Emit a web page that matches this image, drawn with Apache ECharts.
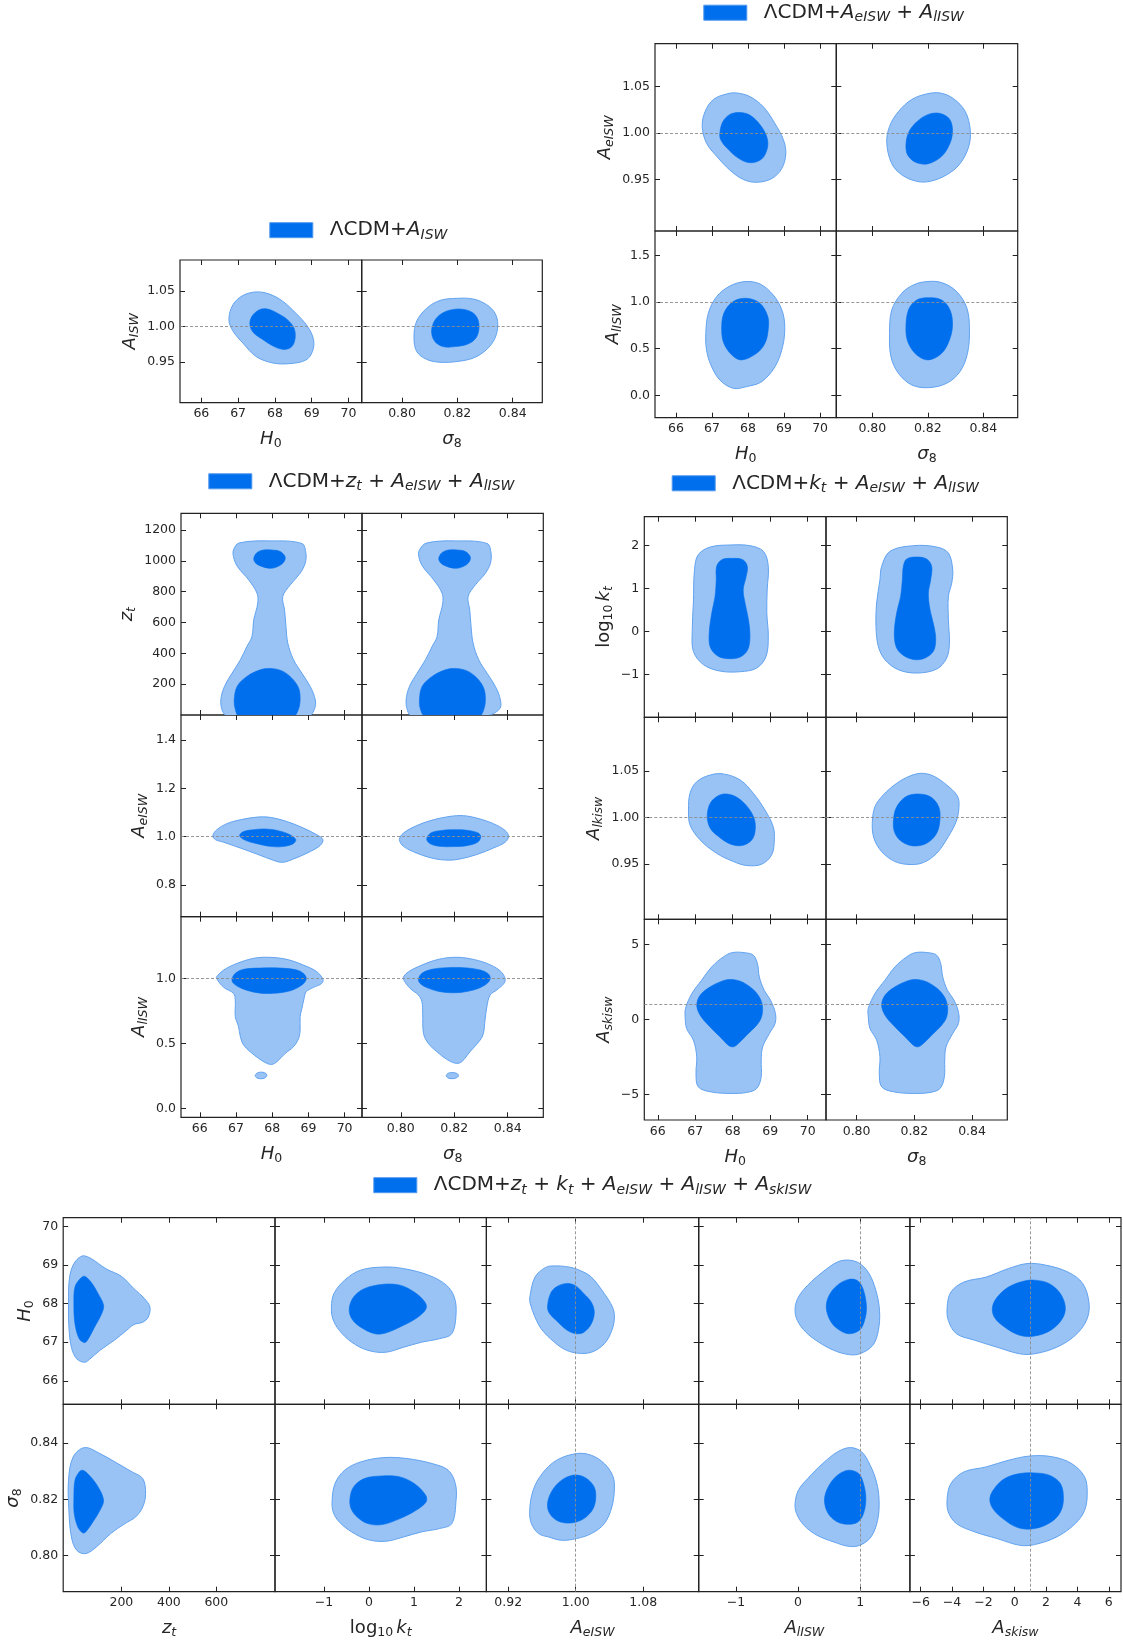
<!DOCTYPE html>
<html>
<head>
<meta charset="utf-8">
<script src="https://cdn.jsdelivr.net/npm/echarts@6/dist/echarts.min.js"></script>
<style>
  html, body { margin: 0; padding: 0; background: #fff; }
  #chart { width: 1123px; height: 1647px; }
</style>
</head>
<body>
<div id="chart"></div>
<script>
// ---------- tick values ----------
const H0_TICKS = [66, 67, 68, 69, 70];
const S8_TICKS = [0.80, 0.82, 0.84];
const A_TICKS = [0.95, 1.00, 1.05];
const ALISW_TICKS_2 = [0.0, 0.5, 1.0, 1.5];
const ZT_TICKS_3 = [200, 400, 600, 800, 1000, 1200];
const AEISW_TICKS_3 = [0.8, 1.0, 1.2, 1.4];
const ALISW_TICKS_3 = [0.0, 0.5, 1.0];
const KT_TICKS = [-1, 0, 1, 2];
const ASK_TICKS_4 = [-5, 0, 5];
const ZT_TICKS_5 = [200, 400, 600];
const AEISW_TICKS_5 = [0.92, 1.00, 1.08];
const ALISW_TICKS_5 = [-1, 0, 1];
const ASK_TICKS_5 = [-6, -4, -2, 0, 2, 4, 6];

// fiducial amplitude (dashed reference lines)
const A_FID = 1.0;

// ---------- contour boundaries (68% and 95% regions), [x, y] in data units ----------
// ΛCDM+A_ISW
const g1_h0_aisw_95 = [[66.75,1.010],[66.86,1.031],[67.13,1.044],[67.49,1.049],[67.85,1.046],[68.21,1.036],[68.57,1.019],[68.88,1.001],[69.05,0.982],[69.02,0.965],[68.84,0.953],[68.39,0.948],[67.94,0.949],[67.49,0.958],[67.13,0.977],[66.86,0.994]];
const g1_h0_aisw_68 = [[67.32,1.003],[67.38,1.015],[67.58,1.024],[67.80,1.025],[68.07,1.019],[68.34,1.010],[68.52,0.998],[68.55,0.984],[68.46,0.972],[68.25,0.968],[67.98,0.972],[67.67,0.982],[67.41,0.992]];
const g1_s8_aisw_95 = [[0.8043,0.986],[0.8053,1.008],[0.8089,1.026],[0.8137,1.037],[0.8198,1.040],[0.8258,1.039],[0.8306,1.031],[0.8336,1.019],[0.8346,1.003],[0.8336,0.984],[0.8306,0.968],[0.8258,0.956],[0.8198,0.951],[0.8137,0.950],[0.8089,0.954],[0.8053,0.965]];
const g1_s8_aisw_68 = [[0.8107,0.991],[0.8113,1.005],[0.8137,1.017],[0.8180,1.024],[0.8228,1.024],[0.8264,1.017],[0.8278,1.003],[0.8270,0.986],[0.8240,0.976],[0.8192,0.972],[0.8149,0.972],[0.8119,0.979]];

// ΛCDM+A_eISW+A_lISW
const g2_h0_ae_95 = [[66.73,1.007],[66.81,1.023],[67.04,1.036],[67.41,1.042],[67.69,1.043],[68.06,1.039],[68.43,1.028],[68.75,1.010],[68.98,0.993],[69.05,0.978],[68.94,0.962],[68.66,0.951],[68.24,0.947],[67.87,0.950],[67.50,0.960],[67.13,0.975],[66.85,0.989]];
const g2_h0_ae_68 = [[67.22,1.000],[67.30,1.012],[67.50,1.020],[67.78,1.022],[68.06,1.019],[68.33,1.009],[68.52,0.996],[68.54,0.984],[68.38,0.972],[68.06,0.968],[67.73,0.973],[67.41,0.984],[67.24,0.993]];
const g2_s8_ae_95 = [[0.8052,0.989],[0.8062,1.007],[0.8094,1.023],[0.8142,1.036],[0.8196,1.042],[0.8244,1.043],[0.8292,1.037],[0.8335,1.023],[0.8353,1.003],[0.8347,0.985],[0.8316,0.967],[0.8268,0.955],[0.8208,0.948],[0.8160,0.948],[0.8106,0.955],[0.8070,0.967]];
const g2_s8_ae_68 = [[0.8121,0.985],[0.8130,1.000],[0.8160,1.012],[0.8202,1.020],[0.8244,1.021],[0.8278,1.015],[0.8289,1.003],[0.8280,0.989],[0.8250,0.975],[0.8202,0.967],[0.8160,0.968],[0.8130,0.975]];
const g2_h0_al_95 = [[66.83,0.664],[66.90,0.879],[67.13,1.057],[67.50,1.171],[67.92,1.218],[68.33,1.193],[68.70,1.075],[68.94,0.914],[69.02,0.736],[68.96,0.521],[68.75,0.307],[68.38,0.146],[67.96,0.093],[67.59,0.075],[67.22,0.164],[66.97,0.325],[66.85,0.486]];
const g2_h0_al_68 = [[67.27,0.700],[67.33,0.879],[67.59,1.004],[67.96,1.039],[68.33,0.986],[68.55,0.843],[68.56,0.700],[68.47,0.557],[68.24,0.450],[67.82,0.379],[67.55,0.432],[67.33,0.557]];
const g2_s8_al_95 = [[0.8062,0.664],[0.8070,0.914],[0.8106,1.093],[0.8148,1.182],[0.8196,1.218],[0.8250,1.207],[0.8304,1.111],[0.8341,0.932],[0.8350,0.700],[0.8343,0.450],[0.8316,0.254],[0.8268,0.129],[0.8202,0.082],[0.8142,0.111],[0.8094,0.236],[0.8067,0.414]];
const g2_s8_al_68 = [[0.8121,0.700],[0.8130,0.914],[0.8160,1.021],[0.8202,1.046],[0.8250,1.021],[0.8280,0.914],[0.8289,0.754],[0.8278,0.593],[0.8250,0.450],[0.8202,0.379],[0.8160,0.432],[0.8130,0.557]];

// ΛCDM+z_t+A_eISW+A_lISW
const g3_h0_zt_95 = [[66.93,1027],[67.04,962],[67.35,876],[67.58,790],[67.60,725],[67.49,617],[67.44,509],[67.30,444],[67.12,358],[66.89,271],[66.68,185],[66.58,98],[66.62,30],[66.75,-5],[69.02,-5],[69.17,40],[69.19,98],[69.05,185],[68.82,271],[68.59,358],[68.43,466],[68.38,574],[68.34,682],[68.29,768],[68.50,844],[68.77,919],[68.91,984],[68.93,1049],[68.82,1112],[67.94,1129],[67.08,1115],[66.93,1070]];
const g3_h0_zt_68a = [[67.49,1016],[67.58,1053],[67.76,1070],[67.99,1070],[68.22,1060],[68.36,1023],[68.29,984],[68.08,956],[67.90,952],[67.67,967],[67.53,988]];
const g3_h0_zt_68b = [[66.95,98],[67.03,185],[67.30,250],[67.67,293],[67.94,302],[68.27,286],[68.54,239],[68.73,174],[68.77,98],[68.72,34],[68.60,-5],[67.08,-5],[66.98,38]];
const g3_s8_zt_95 = [[0.80673,1027],[0.80823,962],[0.81234,876],[0.81545,790],[0.81570,725],[0.81421,617],[0.81358,509],[0.81171,444],[0.80922,358],[0.80611,271],[0.80324,185],[0.80200,98],[0.80250,30],[0.80400,-5],[0.83200,-5],[0.83700,40],[0.83726,98],[0.83539,185],[0.83227,271],[0.82916,358],[0.82704,466],[0.82629,574],[0.82579,682],[0.82517,768],[0.82791,844],[0.83165,919],[0.83352,984],[0.83377,1049],[0.83227,1112],[0.82044,1129],[0.80960,1115],[0.80698,1070]];
const g3_s8_zt_68a = [[0.81421,1016],[0.81545,1053],[0.81794,1070],[0.82106,1070],[0.82417,1060],[0.82604,1023],[0.82517,984],[0.82231,956],[0.81981,952],[0.81670,967],[0.81483,988]];
const g3_s8_zt_68b = [[0.80698,98],[0.80798,185],[0.81171,250],[0.81670,293],[0.82044,302],[0.82480,286],[0.82853,239],[0.83103,174],[0.83165,98],[0.83100,34],[0.82950,-5],[0.80900,-5],[0.80735,38]];
const g3_h0_ae_95 = [[66.36,1.004],[66.47,1.029],[66.75,1.054],[67.12,1.070],[67.58,1.081],[67.94,1.080],[68.40,1.063],[68.86,1.036],[69.23,1.008],[69.40,0.988],[69.32,0.963],[68.96,0.932],[68.59,0.908],[68.29,0.894],[68.04,0.902],[67.58,0.928],[67.12,0.953],[66.66,0.977],[66.43,0.988]];
const g3_h0_ae_68 = [[67.10,1.004],[67.21,1.021],[67.49,1.029],[67.81,1.032],[68.13,1.026],[68.45,1.011],[68.65,0.988],[68.57,0.970],[68.27,0.959],[67.94,0.960],[67.58,0.971],[67.26,0.985]];
const g3_s8_ae_95 = [[0.7995,0.988],[0.8010,1.015],[0.8060,1.046],[0.8122,1.070],[0.8184,1.084],[0.8234,1.087],[0.8284,1.077],[0.8346,1.054],[0.8390,1.026],[0.8403,1.001],[0.8390,0.977],[0.8346,0.953],[0.8284,0.926],[0.8222,0.908],[0.8178,0.903],[0.8122,0.910],[0.8060,0.932],[0.8010,0.960]];
const g3_s8_ae_68 = [[0.8097,0.990],[0.8112,1.015],[0.8153,1.026],[0.8203,1.029],[0.8253,1.026],[0.8290,1.015],[0.8299,0.999],[0.8287,0.977],[0.8247,0.963],[0.8197,0.959],[0.8147,0.960],[0.8110,0.971]];
const g3_h0_al_95 = [[66.46,1.003],[66.66,0.933],[66.93,0.887],[66.98,0.835],[66.98,0.707],[67.07,0.630],[67.12,0.553],[67.21,0.488],[67.39,0.437],[67.62,0.386],[67.85,0.347],[67.99,0.339],[68.13,0.360],[68.36,0.424],[68.59,0.476],[68.73,0.540],[68.77,0.604],[68.77,0.707],[68.82,0.771],[68.88,0.848],[68.94,0.900],[69.14,0.933],[69.37,0.964],[69.40,0.995],[69.23,1.054],[68.86,1.105],[68.40,1.149],[67.90,1.165],[67.49,1.157],[67.03,1.118],[66.66,1.067],[66.48,1.020]];
const g3_h0_al_95b = [[67.53,0.254],[67.60,0.274],[67.72,0.279],[67.83,0.268],[67.85,0.252],[67.78,0.232],[67.65,0.229],[67.56,0.238]];
const g3_h0_al_68 = [[66.89,0.995],[66.98,1.041],[67.21,1.072],[67.67,1.082],[68.22,1.082],[68.68,1.067],[68.88,1.036],[68.94,0.995],[68.82,0.951],[68.50,0.907],[68.04,0.887],[67.58,0.892],[67.16,0.925],[66.93,0.964]];
const g3_s8_al_95 = [[0.8010,0.995],[0.8035,0.925],[0.8066,0.874],[0.8079,0.823],[0.8082,0.733],[0.8085,0.578],[0.8103,0.501],[0.8135,0.437],[0.8172,0.378],[0.8207,0.347],[0.8228,0.360],[0.8259,0.437],[0.8297,0.527],[0.8309,0.578],[0.8315,0.681],[0.8322,0.784],[0.8334,0.874],[0.8359,0.913],[0.8386,0.964],[0.8390,1.003],[0.8371,1.062],[0.8322,1.118],[0.8259,1.154],[0.8203,1.165],[0.8141,1.149],[0.8079,1.105],[0.8029,1.054],[0.8012,1.020]];
const g3_s8_al_95b = [[0.8170,0.252],[0.8178,0.271],[0.8193,0.276],[0.8210,0.269],[0.8216,0.252],[0.8207,0.234],[0.8192,0.229],[0.8177,0.234]];
const g3_s8_al_68 = [[0.8066,0.995],[0.8079,1.041],[0.8116,1.072],[0.8172,1.085],[0.8234,1.085],[0.8297,1.067],[0.8328,1.036],[0.8334,0.995],[0.8315,0.951],[0.8272,0.913],[0.8209,0.892],[0.8147,0.900],[0.8095,0.933],[0.8072,0.964]];

// ΛCDM+k_t+A_eISW+A_lISW
const g4_h0_kt_95 = [[66.98,1.442],[67.08,1.791],[67.40,1.969],[67.93,2.016],[68.46,2.000],[68.82,1.868],[68.95,1.519],[68.92,0.977],[68.91,0.434],[68.95,-0.109],[68.89,-0.574],[68.64,-0.845],[68.20,-0.930],[67.66,-0.915],[67.22,-0.767],[66.95,-0.457],[66.92,0.047],[66.95,0.667]];
const g4_h0_kt_68 = [[67.57,1.519],[67.71,1.674],[67.97,1.705],[68.27,1.674],[68.39,1.519],[68.36,1.287],[68.28,0.977],[68.33,0.667],[68.42,0.279],[68.46,-0.109],[68.40,-0.419],[68.20,-0.589],[67.93,-0.628],[67.62,-0.574],[67.41,-0.380],[67.37,-0.070],[67.44,0.434],[67.53,0.822],[67.56,1.209]];
const g4_s8_kt_95 = [[0.80867,1.519],[0.81156,1.868],[0.81965,2.000],[0.82775,1.969],[0.83179,1.829],[0.83329,1.442],[0.83295,1.132],[0.83179,0.822],[0.83179,0.279],[0.83214,-0.264],[0.83121,-0.612],[0.82775,-0.868],[0.82081,-0.961],[0.81445,-0.884],[0.80983,-0.651],[0.80752,-0.341],[0.80671,0.124],[0.80694,0.667],[0.80809,1.209]];
const g4_s8_kt_68 = [[0.81619,1.519],[0.81734,1.690],[0.82081,1.736],[0.82428,1.690],[0.82601,1.519],[0.82566,1.209],[0.82486,0.899],[0.82543,0.512],[0.82682,0.124],[0.82740,-0.186],[0.82659,-0.457],[0.82370,-0.612],[0.82058,-0.651],[0.81676,-0.574],[0.81387,-0.380],[0.81306,-0.031],[0.81387,0.434],[0.81526,0.822],[0.81584,1.209]];
const g4_h0_alk_95 = [[66.82,1.0082],[66.86,1.0262],[67.04,1.0387],[67.40,1.0459],[67.75,1.0470],[68.20,1.0405],[68.55,1.0262],[68.86,1.0082],[69.08,0.9903],[69.11,0.9760],[69.04,0.9599],[68.77,0.9498],[68.37,0.9484],[68.02,0.9527],[67.57,0.9616],[67.13,0.9760],[66.86,0.9921]];
const g4_h0_alk_68 = [[67.32,1.0011],[67.40,1.0154],[67.62,1.0237],[67.84,1.0254],[68.11,1.0219],[68.39,1.0118],[68.57,0.9993],[68.60,0.9867],[68.51,0.9760],[68.24,0.9699],[67.93,0.9717],[67.62,0.9796],[67.40,0.9885]];
const g4_s8_alk_95 = [[0.80543,0.9939],[0.80636,1.0118],[0.80925,1.0244],[0.81387,1.0369],[0.81850,1.0448],[0.82254,1.0477],[0.82659,1.0448],[0.83121,1.0351],[0.83468,1.0244],[0.83549,1.0154],[0.83468,0.9975],[0.83179,0.9796],[0.82775,0.9616],[0.82312,0.9516],[0.81850,0.9495],[0.81330,0.9527],[0.80867,0.9634],[0.80601,0.9778]];
const g4_s8_alk_68 = [[0.81272,0.9939],[0.81364,1.0100],[0.81676,1.0219],[0.82081,1.0254],[0.82543,1.0226],[0.82832,1.0125],[0.82890,0.9993],[0.82775,0.9832],[0.82428,0.9724],[0.81965,0.9695],[0.81561,0.9742],[0.81330,0.9832]];
const g4_h0_ask_95 = [[66.74,0.735],[66.91,1.737],[67.17,2.628],[67.44,3.519],[67.75,4.187],[68.00,4.48],[68.37,4.45],[68.55,4.298],[68.66,3.742],[68.71,2.851],[68.84,1.960],[69.01,1.292],[69.14,0.401],[69.13,-0.267],[68.98,-0.935],[68.80,-1.826],[68.76,-2.717],[68.76,-3.831],[68.64,-4.610],[68.37,-4.878],[67.93,-4.944],[67.40,-4.833],[67.08,-4.499],[67.02,-3.608],[67.04,-2.494],[66.95,-1.381],[66.77,-0.601],[66.73,0.178]];
const g4_h0_ask_68 = [[67.04,0.958],[67.13,1.626],[67.40,2.183],[67.71,2.561],[67.93,2.673],[68.20,2.561],[68.46,2.183],[68.68,1.626],[68.79,0.958],[68.77,0.178],[68.64,-0.379],[68.37,-1.047],[68.15,-1.604],[68.02,-1.826],[67.88,-1.715],[67.66,-1.158],[67.35,-0.379],[67.13,0.290]];
const g4_s8_ask_95 = [[0.80405,0.735],[0.80636,1.737],[0.80983,2.628],[0.81330,3.519],[0.81734,4.187],[0.82050,4.48],[0.82543,4.45],[0.82775,4.298],[0.82913,3.742],[0.82983,2.851],[0.83144,1.960],[0.83376,1.292],[0.83537,0.401],[0.83526,-0.267],[0.83329,-0.935],[0.83098,-1.826],[0.83052,-2.717],[0.83040,-3.831],[0.82890,-4.610],[0.82543,-4.878],[0.81965,-4.944],[0.81272,-4.833],[0.80867,-4.499],[0.80786,-3.608],[0.80809,-2.494],[0.80694,-1.381],[0.80463,-0.601],[0.80405,0.178]];
const g4_s8_ask_68 = [[0.80867,0.958],[0.80983,1.626],[0.81330,2.183],[0.81734,2.561],[0.82023,2.673],[0.82370,2.561],[0.82717,2.183],[0.83006,1.626],[0.83144,0.958],[0.83121,0.178],[0.82948,-0.379],[0.82601,-1.047],[0.82312,-1.604],[0.82139,-1.826],[0.81965,-1.715],[0.81676,-1.158],[0.81272,-0.379],[0.80983,0.290]];

// ΛCDM+z_t+k_t+A_eISW+A_lISW+A_skISW
const g5_zt_h0_95 = [[45,69.24],[139.8,68.89],[200,68.71],[252.6,68.39],[297.7,68.13],[320.3,67.91],[312.8,67.65],[290.2,67.52],[252.6,67.46],[222.6,67.31],[169.9,67.05],[109.8,66.79],[64.7,66.55],[45,66.48],[12,66.57],[-10.5,66.87],[-21,67.39],[-22.6,68.0],[-18,68.69],[4.5,69.08]];
const g5_zt_h0_68 = [[0,68.0],[4.5,68.43],[27,68.65],[45,68.71],[72,68.56],[102,68.26],[125,67.96],[117,67.74],[87,67.39],[57,67.05],[45,66.99],[22.5,67.09],[4.5,67.48]];
const g5_zt_s8_95 = [[45,0.83834],[109.8,0.83621],[185,0.83266],[245,0.82970],[290,0.82734],[302,0.82201],[290,0.81728],[260,0.81373],[215,0.81136],[155,0.80781],[94.7,0.80308],[49.6,0.80071],[12,0.80189],[-10.5,0.80663],[-21,0.81609],[-22.6,0.82675],[-3,0.83503]];
const g5_zt_s8_68 = [[0,0.82024],[4.5,0.82675],[22.5,0.82970],[37.6,0.83030],[64.7,0.82852],[102,0.82438],[125,0.81964],[110,0.81609],[80,0.81195],[49.6,0.80840],[37.6,0.80805],[16.5,0.81018],[1.5,0.81491]];
const g5_kt_h0_95 = [[-0.833,67.91],[-0.778,68.26],[-0.540,68.61],[-0.183,68.87],[0.333,68.95],[0.770,68.91],[1.325,68.74],[1.722,68.48],[1.897,68.17],[1.937,67.74],[1.841,67.22],[1.563,67.09],[1.167,67.00],[0.770,66.87],[0.373,66.74],[-0.024,66.79],[-0.381,67.00],[-0.659,67.31],[-0.802,67.61]];
const g5_kt_h0_68 = [[-0.437,67.87],[-0.341,68.17],[-0.103,68.39],[0.294,68.50],[0.690,68.48],[1.008,68.30],[1.246,68.04],[1.270,67.87],[1.087,67.65],[0.770,67.44],[0.373,67.24],[0.135,67.22],[-0.183,67.39],[-0.381,67.61]];
const g5_kt_s8_95 = [[-0.817,0.81964],[-0.754,0.82556],[-0.540,0.83030],[-0.183,0.83325],[0.333,0.83479],[0.849,0.83444],[1.405,0.83266],[1.762,0.83030],[1.921,0.82556],[1.937,0.81964],[1.841,0.81136],[1.563,0.80959],[1.167,0.80840],[0.770,0.80663],[0.373,0.80509],[-0.024,0.80568],[-0.381,0.80840],[-0.659,0.81195],[-0.794,0.81550]];
const g5_kt_s8_68 = [[-0.421,0.82024],[-0.341,0.82438],[-0.103,0.82734],[0.294,0.82828],[0.690,0.82793],[1.008,0.82556],[1.262,0.82142],[1.270,0.81905],[1.048,0.81609],[0.690,0.81314],[0.294,0.81101],[-0.024,0.81136],[-0.262,0.81373],[-0.397,0.81669]];
const g5_ae_h0_95 = [[0.9462,68.0],[0.9456,68.16],[0.9518,68.69],[0.9644,68.94],[0.9745,68.98],[0.9921,68.95],[1.0053,68.86],[1.0185,68.69],[1.0339,68.26],[1.0436,67.91],[1.0459,67.65],[1.0428,67.31],[1.0339,66.96],[1.0185,66.74],[1.0009,66.72],[0.9855,66.83],[0.9701,67.09],[0.9591,67.35],[0.9518,67.65]];
const g5_ae_h0_68 = [[0.9666,67.91],[0.9701,68.26],[0.9767,68.43],[0.9877,68.52],[0.9987,68.48],[1.0097,68.26],[1.0185,68.04],[1.0220,67.78],[1.0185,67.48],[1.0097,67.26],[1.0009,67.22],[0.9899,67.31],[0.9767,67.57],[0.9692,67.74]];
const g5_ae_s8_95 = [[1.0009,0.83622],[1.0185,0.83562],[1.0339,0.83267],[1.0436,0.82852],[1.0459,0.82437],[1.0428,0.81727],[1.0339,0.81137],[1.0185,0.80782],[1.0009,0.80605],[0.9833,0.80544],[0.9679,0.80662],[0.9560,0.80782],[0.9475,0.81137],[0.9455,0.81609],[0.9496,0.82320],[0.9603,0.82912],[0.9771,0.8338]];
const g5_ae_s8_68 = [[0.9666,0.81847],[0.9723,0.82320],[0.9833,0.82675],[0.9966,0.82852],[1.0097,0.82792],[1.0207,0.82497],[1.0238,0.82142],[1.0207,0.81670],[1.0097,0.81315],[0.9943,0.81159],[0.9789,0.81230],[0.9692,0.81492]];
const g5_al_h0_95 = [[-0.048,67.87],[0.006,68.17],[0.156,68.48],[0.395,68.82],[0.634,69.08],[0.815,69.13],[0.994,69.04],[1.143,68.78],[1.251,68.35],[1.311,67.83],[1.293,67.31],[1.203,66.92],[0.994,66.70],[0.815,66.68],[0.575,66.79],[0.335,67.00],[0.126,67.26],[-0.013,67.57]];
const g5_al_h0_68 = [[0.454,67.91],[0.502,68.22],[0.634,68.48],[0.815,68.63],[0.963,68.59],[1.053,68.35],[1.101,67.91],[1.071,67.57],[0.994,67.32],[0.815,67.22],[0.634,67.35],[0.515,67.57]];
const g5_al_s8_95 = [[-0.048,0.81846],[0.006,0.82320],[0.156,0.82734],[0.395,0.83266],[0.634,0.83680],[0.844,0.83834],[1.025,0.83680],[1.161,0.83207],[1.262,0.82615],[1.304,0.81964],[1.280,0.81254],[1.174,0.80663],[0.994,0.80367],[0.815,0.80331],[0.575,0.80485],[0.306,0.80722],[0.095,0.81077],[-0.024,0.81491]];
const g5_al_s8_68 = [[0.425,0.81964],[0.485,0.82438],[0.634,0.82852],[0.815,0.83030],[0.976,0.82911],[1.053,0.82556],[1.091,0.82024],[1.053,0.81491],[0.963,0.81195],[0.815,0.81112],[0.634,0.81195],[0.485,0.81491]];
const g5_ask_h0_95 = [[-4.311,67.91],[-4.075,68.30],[-3.246,68.56],[-1.824,68.69],[-0.402,68.91],[0.784,69.04],[1.971,69.00],[3.393,68.82],[4.343,68.52],[4.745,68.0],[4.579,67.57],[3.865,67.18],[2.679,66.87],[1.256,66.70],[0.313,66.70],[-1.116,66.87],[-2.538,67.05],[-3.718,67.22],[-4.241,67.57]];
const g5_ask_h0_68 = [[-1.422,67.91],[-1.116,68.17],[-0.402,68.43],[0.548,68.58],[1.256,68.61],[2.207,68.52],[2.915,68.26],[3.227,67.91],[3.036,67.61],[2.328,67.32],[1.256,67.16],[0.313,67.18],[-0.638,67.39],[-1.301,67.65]];
const g5_ask_s8_95 = [[-4.311,0.82024],[-4.075,0.82556],[-3.246,0.82970],[-1.824,0.83148],[-0.402,0.83385],[1.020,0.83538],[2.443,0.83503],[3.629,0.83266],[4.458,0.82793],[4.624,0.82201],[4.458,0.81609],[3.865,0.81136],[2.679,0.80663],[1.256,0.80391],[0.313,0.80367],[-1.116,0.80604],[-2.538,0.80840],[-3.718,0.81136],[-4.241,0.81550]];
const g5_ask_s8_68 = [[-1.588,0.82024],[-1.301,0.82379],[-0.638,0.82734],[0.313,0.82911],[1.256,0.82935],[2.207,0.82852],[2.915,0.82556],[3.106,0.82024],[2.915,0.81550],[2.328,0.81195],[1.256,0.80959],[0.191,0.80994],[-0.759,0.81314],[-1.397,0.81669]];

// ---------- styling ----------
const FONT = 'DejaVu Sans';
const INK = '#262626';
const FRAME = '#222222';
const C_DARK = '#006FED';
const C_LIGHT = '#99C3F5';
const C_EDGE = '#62A3F0';
const REF_LINE = { type: [3, 2], color: '#8c8c8c', width: 0.9 };

const NAME_RICH = {
  i:  { fontFamily: FONT, fontStyle: 'italic', fontSize: 18, lineHeight: 22, color: INK },
  r:  { fontFamily: FONT, fontSize: 18, lineHeight: 22, color: INK },
  s:  { fontFamily: FONT, fontSize: 12.5, lineHeight: 12, verticalAlign: 'bottom', color: INK },
  si: { fontFamily: FONT, fontStyle: 'italic', fontSize: 12.5, lineHeight: 12, verticalAlign: 'bottom', color: INK },
  g:  { width: 3 }
};
const LEG_RICH = {
  g:  { width: 12 },
  n:  { fontFamily: FONT, fontSize: 20, lineHeight: 24, color: INK },
  i:  { fontFamily: FONT, fontStyle: 'italic', fontSize: 20, lineHeight: 24, color: INK },
  si: { fontFamily: FONT, fontStyle: 'italic', fontSize: 14, lineHeight: 14, verticalAlign: 'bottom', color: INK }
};

const N_H0 = '{i|H}{s|0}';
const N_S8 = '{i|σ}{s|8}';
const N_AISW = '{i|A}{si|ISW}';
const N_AE = '{i|A}{si|eISW}';
const N_AL = '{i|A}{si|lISW}';
const N_ZT = '{i|z}{si|t}';
const N_KT = '{r|log}{s|10}{g| }{i|k}{si|t}';
const N_ALK = '{i|A}{si|lkisw}';
const N_ASK = '{i|A}{si|skisw}';

function ax(min, max, ticks, dec, name) { return { min, max, ticks, dec, name }; }
function fmt(v, dec) { return Number(v).toFixed(dec).replace('-', '\u2212'); }

// ---------- panel layout of the five grids ----------
const GROUPS = [
  {
    name: 'ΛCDM+A_ISW',
    legend: '{g| }{n|ΛCDM+}{i|A}{si|ISW}', legX: 269.3, legY: 232.2,
    xs: [180, 361.7, 542.3], ys: [260, 402.7],
    cols: [ax(65.42, 70.36, H0_TICKS, 0, N_H0), ax(0.7854, 0.8507, S8_TICKS, 2, N_S8)],
    rows: [ax(0.893, 1.094, A_TICKS, 2, N_AISW)],
    panels: [
      { r: 0, c: 0, outer: [g1_h0_aisw_95], inner: [g1_h0_aisw_68], refY: A_FID },
      { r: 0, c: 1, outer: [g1_s8_aisw_95], inner: [g1_s8_aisw_68], refY: A_FID }
    ]
  },
  {
    name: 'ΛCDM+A_eISW+A_lISW',
    legend: '{g| }{n|ΛCDM+}{i|A}{si|eISW}{n| + }{i|A}{si|lISW}', legX: 703.3, legY: 14.7,
    xs: [655, 836.3, 1017.7], ys: [43.7, 231, 417.7],
    cols: [ax(65.42, 70.45, H0_TICKS, 0, N_H0), ax(0.787, 0.8524, S8_TICKS, 2, N_S8)],
    rows: [ax(0.8946, 1.096, A_TICKS, 2, N_AE), ax(-0.24, 1.76, ALISW_TICKS_2, 1, N_AL)],
    panels: [
      { r: 0, c: 0, outer: [g2_h0_ae_95], inner: [g2_h0_ae_68], refY: A_FID },
      { r: 0, c: 1, outer: [g2_s8_ae_95], inner: [g2_s8_ae_68], refY: A_FID },
      { r: 1, c: 0, outer: [g2_h0_al_95], inner: [g2_h0_al_68], refY: A_FID },
      { r: 1, c: 1, outer: [g2_s8_al_95], inner: [g2_s8_al_68], refY: A_FID }
    ]
  },
  {
    name: 'ΛCDM+z_t+A_eISW+A_lISW',
    legend: '{g| }{n|ΛCDM+}{i|z}{si|t}{n| + }{i|A}{si|eISW}{n| + }{i|A}{si|lISW}', legX: 208.3, legY: 483.3,
    xs: [181, 362, 543.3], ys: [513.3, 715, 916.7, 1117.3],
    cols: [ax(65.48, 70.48, H0_TICKS, 0, N_H0), ax(0.7855, 0.8533, S8_TICKS, 2, N_S8)],
    rows: [ax(0, 1308, ZT_TICKS_3, 0, N_ZT), ax(0.669, 1.5035, AEISW_TICKS_3, 1, N_AE), ax(-0.069, 1.478, ALISW_TICKS_3, 1, N_AL)],
    panels: [
      { r: 0, c: 0, outer: [g3_h0_zt_95], inner: [g3_h0_zt_68a, g3_h0_zt_68b] },
      { r: 0, c: 1, outer: [g3_s8_zt_95], inner: [g3_s8_zt_68a, g3_s8_zt_68b] },
      { r: 1, c: 0, outer: [g3_h0_ae_95], inner: [g3_h0_ae_68], refY: A_FID },
      { r: 1, c: 1, outer: [g3_s8_ae_95], inner: [g3_s8_ae_68], refY: A_FID },
      { r: 2, c: 0, outer: [g3_h0_al_95, g3_h0_al_95b], inner: [g3_h0_al_68], refY: A_FID },
      { r: 2, c: 1, outer: [g3_s8_al_95, g3_s8_al_95b], inner: [g3_s8_al_68], refY: A_FID }
    ]
  },
  {
    name: 'ΛCDM+k_t+A_eISW+A_lISW',
    legend: '{g| }{n|ΛCDM+}{i|k}{si|t}{n| + }{i|A}{si|eISW}{n| + }{i|A}{si|lISW}', legX: 671.7, legY: 485.3,
    xs: [644.3, 826, 1007.3], ys: [516.7, 717.3, 919.3, 1120],
    cols: [ax(65.64, 70.49, H0_TICKS, 0, N_H0), ax(0.7894, 0.8522, S8_TICKS, 2, N_S8)],
    rows: [ax(-1.99, 2.674, KT_TICKS, 0, N_KT), ax(0.8905, 1.108, A_TICKS, 2, N_ALK), ax(-6.72, 6.70, ASK_TICKS_4, 0, N_ASK)],
    panels: [
      { r: 0, c: 0, outer: [g4_h0_kt_95], inner: [g4_h0_kt_68] },
      { r: 0, c: 1, outer: [g4_s8_kt_95], inner: [g4_s8_kt_68] },
      { r: 1, c: 0, outer: [g4_h0_alk_95], inner: [g4_h0_alk_68], refY: A_FID },
      { r: 1, c: 1, outer: [g4_s8_alk_95], inner: [g4_s8_alk_68], refY: A_FID },
      { r: 2, c: 0, outer: [g4_h0_ask_95], inner: [g4_h0_ask_68], refY: A_FID },
      { r: 2, c: 1, outer: [g4_s8_ask_95], inner: [g4_s8_ask_68], refY: A_FID }
    ]
  },
  {
    name: 'ΛCDM+z_t+k_t+A_eISW+A_lISW+A_skISW',
    legend: '{g| }{n|ΛCDM+}{i|z}{si|t}{n| + }{i|k}{si|t}{n| + }{i|A}{si|eISW}{n| + }{i|A}{si|lISW}{n| + }{i|A}{si|skISW}', legX: 373.3, legY: 1187.2,
    xs: [63.2, 275, 486.4, 698.7, 909.9, 1121], ys: [1217.7, 1404.3, 1591.7],
    cols: [ax(-45, 847, ZT_TICKS_5, 0, N_ZT), ax(-2.087, 2.611, KT_TICKS, 0, N_KT), ax(0.8942, 1.1457, AEISW_TICKS_5, 2, N_AE),
           ax(-1.599, 1.80, ALISW_TICKS_5, 0, N_AL), ax(-6.69, 6.78, ASK_TICKS_5, 0, N_ASK)],
    rows: [ax(65.39, 70.23, H0_TICKS, 0, N_H0), ax(0.7872, 0.8537, S8_TICKS, 2, N_S8)],
    panels: [
      { r: 0, c: 0, outer: [g5_zt_h0_95], inner: [g5_zt_h0_68] },
      { r: 0, c: 1, outer: [g5_kt_h0_95], inner: [g5_kt_h0_68] },
      { r: 0, c: 2, outer: [g5_ae_h0_95], inner: [g5_ae_h0_68], refX: A_FID },
      { r: 0, c: 3, outer: [g5_al_h0_95], inner: [g5_al_h0_68], refX: A_FID },
      { r: 0, c: 4, outer: [g5_ask_h0_95], inner: [g5_ask_h0_68], refX: A_FID },
      { r: 1, c: 0, outer: [g5_zt_s8_95], inner: [g5_zt_s8_68] },
      { r: 1, c: 1, outer: [g5_kt_s8_95], inner: [g5_kt_s8_68] },
      { r: 1, c: 2, outer: [g5_ae_s8_95], inner: [g5_ae_s8_68], refX: A_FID },
      { r: 1, c: 3, outer: [g5_al_s8_95], inner: [g5_al_s8_68], refX: A_FID },
      { r: 1, c: 4, outer: [g5_ask_s8_95], inner: [g5_ask_s8_68], refX: A_FID }
    ]
  }
];

// ---------- option assembly ----------
const measureCtx = document.createElement('canvas').getContext('2d');
measureCtx.font = '12.5px "DejaVu Sans"';
function labelWidth(a) {
  return Math.max(...a.ticks.map(t => measureCtx.measureText(fmt(t, a.dec)).width));
}

function axisOption(a, gi, pos, labelled, isY) {
  const o = {
    type: 'value', gridIndex: gi, position: pos, min: a.min, max: a.max,
    axisLine: { show: false, onZero: false }, splitLine: { show: false },
    axisTick: { show: true, inside: true, length: 5, customValues: a.ticks, lineStyle: { color: FRAME, width: 1 } },
    axisLabel: { show: labelled, customValues: a.ticks, formatter: v => fmt(v, a.dec),
                 fontFamily: FONT, fontSize: 12.5, color: INK, margin: 5 }
  };
  if (labelled) {
    o.name = a.name;
    o.nameLocation = 'middle';
    o.nameGap = isY ? 5 + labelWidth(a) + 6 : 26;
    o.nameTextStyle = { rich: NAME_RICH };
  }
  return o;
}

const grid = [], xAxis = [], yAxis = [], series = [], legend = [];

GROUPS.forEach(g => {
  const nRows = g.rows.length;
  g.panels.forEach(p => {
    const gi = grid.length;
    grid.push({
      left: g.xs[p.c], top: g.ys[p.r],
      width: g.xs[p.c + 1] - g.xs[p.c], height: g.ys[p.r + 1] - g.ys[p.r],
      show: true, borderColor: FRAME, borderWidth: 1.2, backgroundColor: 'transparent',
      containLabel: false, outerBoundsMode: 'none'
    });
    const xi = xAxis.length, yi = yAxis.length;
    xAxis.push(axisOption(g.cols[p.c], gi, 'bottom', p.r === nRows - 1, false));
    xAxis.push(axisOption(g.cols[p.c], gi, 'top', false, false));
    yAxis.push(axisOption(g.rows[p.r], gi, 'left', p.c === 0, true));
    yAxis.push(axisOption(g.rows[p.r], gi, 'right', false, true));

    const polys = [
      ...p.outer.map(pts => ({ pts, fill: C_LIGHT, stroke: C_EDGE, lw: 1 })),
      ...p.inner.map(pts => ({ pts, fill: C_DARK, stroke: C_DARK, lw: 0.6 }))
    ];
    const refs = [];
    if (p.refY !== undefined) refs.push({ yAxis: p.refY });
    if (p.refX !== undefined) refs.push({ xAxis: p.refX });

    series.push({
      type: 'custom', name: g.name, xAxisIndex: xi, yAxisIndex: yi,
      clip: true, silent: true, animation: false,
      itemStyle: { color: C_DARK },
      data: polys.map(q => q.pts[0]),
      renderItem: (params, api) => {
        const q = polys[params.dataIndex];
        return {
          type: 'polygon',
          shape: { points: q.pts.map(pt => api.coord(pt)), smooth: 0.35 },
          style: { fill: q.fill, stroke: q.stroke, lineWidth: q.lw }
        };
      },
      markLine: refs.length ? {
        silent: true, animation: false, symbol: ['none', 'none'],
        label: { show: false }, lineStyle: REF_LINE, data: refs
      } : undefined
    });
  });

  legend.push({
    data: [{ name: g.name, icon: 'rect', itemStyle: { color: C_DARK, borderColor: '#4f98ee', borderWidth: 1 } }],
    left: g.legX, top: g.legY - 12, padding: 0,
    itemWidth: 43, itemHeight: 15, selectedMode: false,
    formatter: () => g.legend,
    textStyle: { color: INK, fontFamily: FONT, fontSize: 20, rich: LEG_RICH }
  });
});

const chart = echarts.init(document.getElementById('chart'), null, { renderer: 'canvas' });
chart.setOption({
  backgroundColor: '#ffffff',
  animation: false,
  textStyle: { fontFamily: FONT },
  grid, xAxis, yAxis, series, legend
});
</script>
</body>
</html>
